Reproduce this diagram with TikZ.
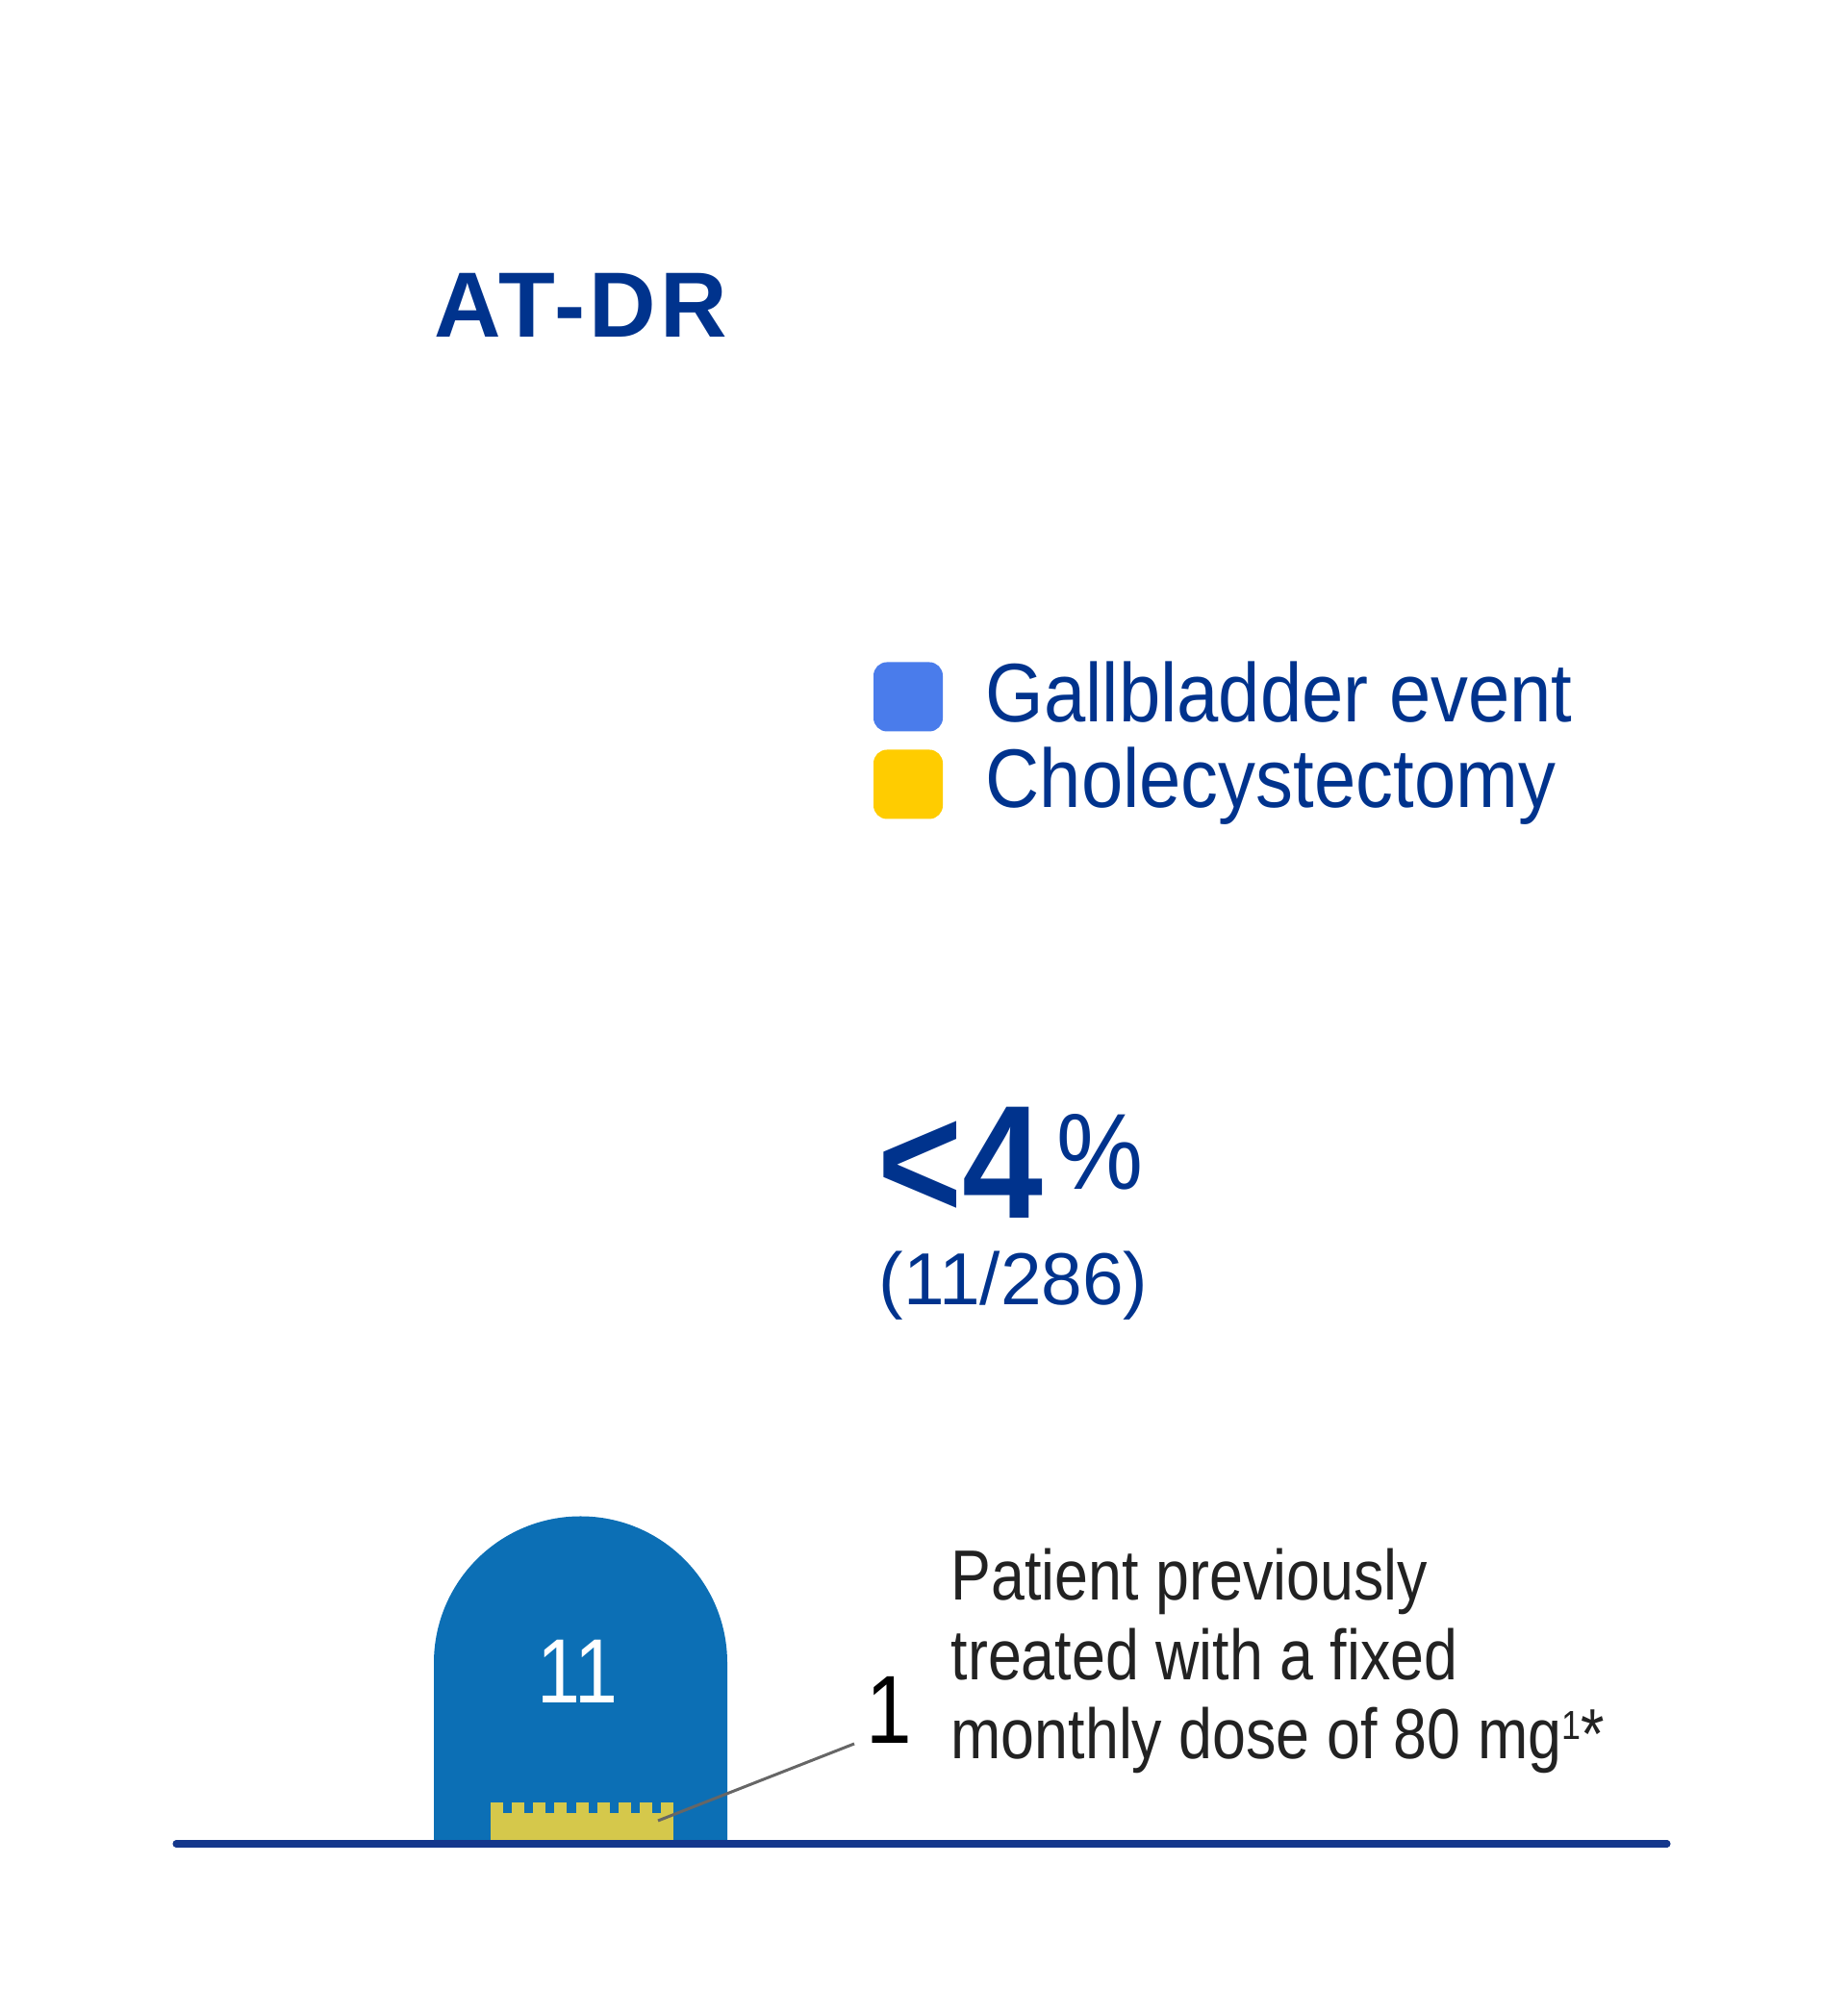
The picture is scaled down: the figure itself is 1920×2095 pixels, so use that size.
\documentclass[tikz,border=0pt]{standalone}
\usepackage{fontspec}
\setmainfont{Liberation Sans}
\newfontfamily\narrowfont[FakeStretch=0.85]{Liberation Sans}
\newfontfamily\legendfont[FakeStretch=0.9]{Liberation Sans}
\newfontfamily\titlefont[LetterSpace=4.5]{Liberation Sans}
\usetikzlibrary{positioning}

\definecolor{atnavy}{RGB}{0,51,141}
\definecolor{barblue}{RGB}{12,111,181}
\definecolor{gallblue}{RGB}{74,124,235}
\definecolor{cholyellow}{RGB}{255,204,0}
\definecolor{cholbar}{RGB}{213,200,75}
\definecolor{axisnavy}{RGB}{20,55,140}
\definecolor{notegray}{RGB}{34,34,34}

\tikzset{
  title/.style={anchor=base, inner sep=0pt, text=atnavy, font=\titlefont\fontsize{27.4}{30}\selectfont\bfseries},
  legendbox/.style={minimum size=0.72cm, inner sep=0pt, rounded corners=1.4mm},
  legendtext/.style={anchor=base west, inner sep=0pt, text=atnavy, font=\legendfont\fontsize{24.6}{28}\selectfont},
  notetext/.style={anchor=base west, inner sep=0pt, text=notegray, font=\narrowfont\fontsize{21}{24}\selectfont},
  axisline/.style={draw=axisnavy, line width=2pt, line cap=round},
  leader/.style={draw=gray!80!black, line width=0.85pt}
}

\begin{document}
\begin{tikzpicture}[x=0.1mm, y=0.1mm]
  \useasboundingbox (0,0) rectangle (1920,2095);

  \node [title] (title) at (604,1744) {AT-DR};

  % legend
  \node [legendbox, fill=gallblue] (gbox) at (944,1370.5) {};
  \node [legendbox, fill=cholyellow] (cbox) at (944,1279.5) {};
  \node [legendtext] (gtext) at (1024,1344) {Gallbladder event};
  \node [legendtext] (ctext) at (1024,1255) {Cholecystectomy};

  % rate
  \node [anchor=base west, inner sep=0pt, text=atnavy, font=\legendfont\fontsize{47.7}{50}\selectfont\bfseries] (rate) at (912,828) {<4};
  \node [anchor=base west, inner sep=0pt, text=atnavy, font=\legendfont\fontsize{32}{34}\selectfont] (pctsign) at ([xshift=0.12cm, yshift=0.3cm]rate.base east) {\%};
  \node [anchor=base west, inner sep=0pt, text=atnavy, font=\fontsize{21.8}{24}\selectfont] (ratio) at (913,738) {(11/286)};

  % bar
  \fill [barblue] (451,178) -- (451,366) arc [start angle=180, end angle=0, radius=152.5] -- (756,178) -- cycle;
  \fill [cholbar] (510,180) rectangle (700,210);
  \foreach \i in {0,...,8}
    \fill [cholbar] ({510+\i*22.125},209) rectangle ++(13,12);
  \node [anchor=base, inner sep=0pt, text=white, font=\narrowfont\fontsize{27}{30}\selectfont] (count) at (600,324) {11};
  \draw [axisline] (183,178) -- (1733,178);

  % note
  \coordinate (tip) at (684,202);
  \node [anchor=base west, inner sep=0pt, text=black, font=\narrowfont\fontsize{28.6}{32}\selectfont] (one) at (900,282) {1};
  \draw [leader] (tip) -- ([xshift=-0.12cm]one.base west);
  \foreach \txt [count=\i] in {Patient previously, treated with a fixed, monthly dose of 80 mg{\fontsize{12}{12}\selectfont\raisebox{0.9ex}{1}}*}
    \node [notetext] (note\i) at (988,{431-(\i-1)*82.5}) {\txt};
\end{tikzpicture}
\end{document}
